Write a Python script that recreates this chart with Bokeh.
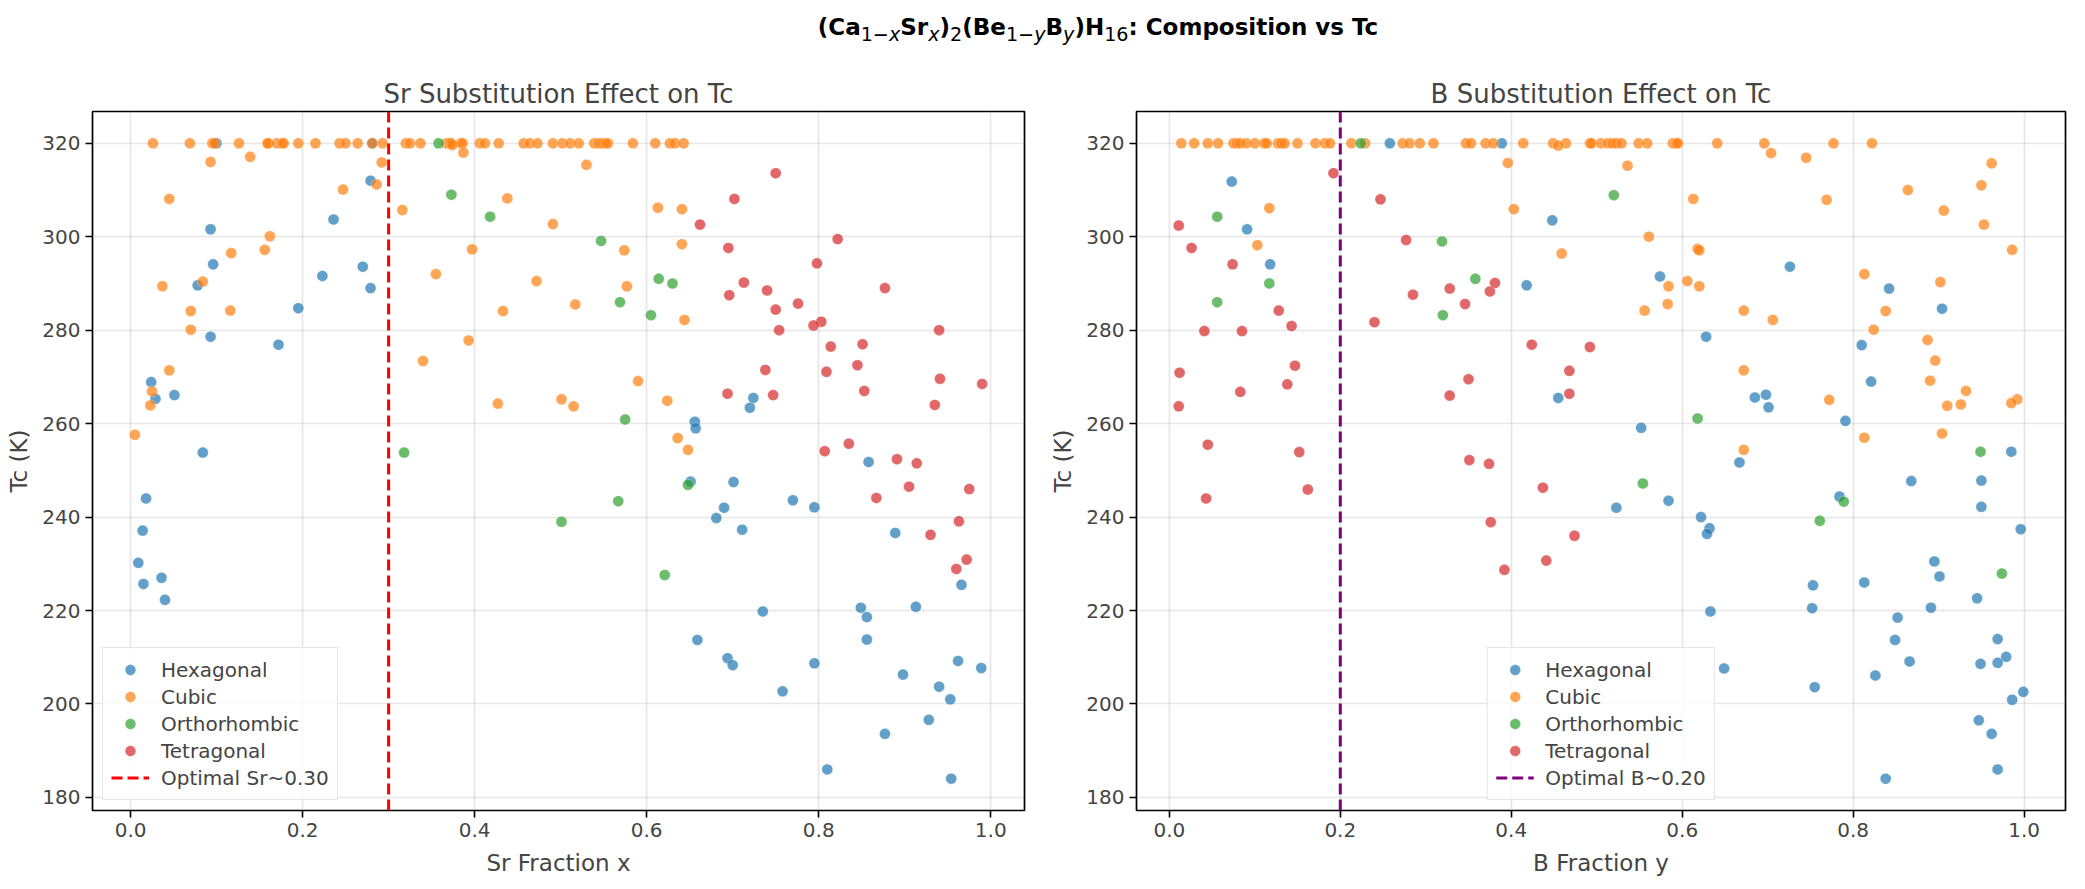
import numpy as np
from bokeh.plotting import figure
from bokeh.layouts import column, row
from bokeh.models import Div, FixedTicker, PrintfTickFormatter
from bokeh.embed import file_html
from bokeh.resources import INLINE

phases = ["Hexagonal", "Cubic", "Orthorhombic", "Tetragonal"]
colors = ["#1f77b4", "#ff7f0e", "#2ca02c", "#d62728"]
x_ticks = [0.0, 0.2, 0.4, 0.6, 0.8, 1.0]
tc_ticks = [180, 200, 220, 240, 260, 280, 300, 320]
optimal_sr = 0.30
optimal_b = 0.20

# --- Sr fraction panel ---
sr_hex_x = [0.100, 0.281, 0.279, 0.236, 0.093, 0.096, 0.270, 0.223, 0.078, 0.279,
            0.195, 0.093, 0.172, 0.024, 0.029, 0.051, 0.084, 0.018, 0.014, 0.009,
            0.015, 0.036, 0.040, 0.724, 0.720, 0.656, 0.657, 0.651, 0.701, 0.690,
            0.681, 0.711, 0.735, 0.659, 0.694, 0.700, 0.858, 0.770, 0.795, 0.889,
            0.966, 0.849, 0.856, 0.913, 0.856, 0.795, 0.962, 0.989, 0.758, 0.898,
            0.940, 0.953, 0.928, 0.877, 0.810, 0.954]
sr_hex_tc = [320.0, 320.0, 312.0, 303.7, 301.6, 294.1, 293.6, 291.6, 289.6, 289.0,
             284.7, 278.6, 276.9, 268.9, 265.3, 266.1, 253.8, 244.0, 237.1, 230.2,
             225.7, 227.0, 222.3, 265.5, 263.4, 260.4, 259.0, 247.6, 247.5, 242.0,
             239.8, 237.3, 219.8, 213.7, 209.8, 208.3, 251.8, 243.6, 242.1, 236.6,
             225.5, 220.6, 218.6, 220.8, 213.8, 208.7, 209.2, 207.7, 202.7, 206.3,
             203.7, 201.0, 196.6, 193.6, 186.0, 184.0]

sr_cub_x = [0.026, 0.069, 0.095, 0.098, 0.126, 0.159, 0.160, 0.170, 0.176, 0.178,
            0.195, 0.215, 0.243, 0.250, 0.264, 0.281, 0.293, 0.320, 0.325, 0.337,
            0.367, 0.371, 0.373, 0.384, 0.386, 0.406, 0.412, 0.428, 0.457, 0.464,
            0.473, 0.491, 0.502, 0.511, 0.521, 0.539, 0.544, 0.548, 0.552, 0.555,
            0.584, 0.610, 0.627, 0.633, 0.643,
            0.374, 0.387, 0.139, 0.093, 0.292, 0.530, 0.286, 0.247, 0.438, 0.045,
            0.613, 0.641, 0.316, 0.491, 0.162, 0.641, 0.397, 0.156, 0.574, 0.117,
            0.355, 0.472, 0.084, 0.037, 0.577, 0.517, 0.116, 0.070, 0.433, 0.644,
            0.070, 0.393, 0.340, 0.045, 0.590, 0.025, 0.501, 0.624, 0.427, 0.023,
            0.515, 0.005, 0.636, 0.648]
sr_cub_tc = [320.0, 320.0, 320.0, 320.0, 320.0, 320.0, 320.0, 320.0, 320.0, 320.0,
             320.0, 320.0, 320.0, 320.0, 320.0, 320.0, 320.0, 320.0, 320.0, 320.0,
             320.0, 320.0, 320.0, 320.0, 320.0, 320.0, 320.0, 320.0, 320.0, 320.0,
             320.0, 320.0, 320.0, 320.0, 320.0, 320.0, 320.0, 320.0, 320.0, 320.0,
             320.0, 320.0, 320.0, 320.0, 320.0,
             319.6, 318.0, 317.1, 316.0, 315.9, 315.4, 311.2, 310.1, 308.2, 308.1,
             306.2, 305.9, 305.7, 302.7, 300.1, 298.4, 297.3, 297.2, 297.1, 296.5,
             292.0, 290.5, 290.4, 289.4, 289.4, 285.5, 284.2, 284.1, 284.1, 282.2,
             280.1, 277.8, 273.4, 271.4, 269.1, 266.9, 265.2, 264.9, 264.3, 263.9,
             263.7, 257.6, 256.9, 254.4]

sr_ort_x = [0.358, 0.373, 0.418, 0.547, 0.614, 0.630, 0.569, 0.605, 0.575, 0.318,
            0.648, 0.567, 0.501, 0.621]
sr_ort_tc = [320.0, 309.0, 304.3, 299.1, 291.0, 290.0, 286.0, 283.2, 260.9, 253.8,
             246.9, 243.4, 239.0, 227.6]

sr_tet_x = [0.750, 0.702, 0.662, 0.822, 0.695, 0.798, 0.713, 0.877, 0.740, 0.696,
            0.776, 0.750, 0.803, 0.794, 0.754, 0.940, 0.851, 0.814, 0.845, 0.738,
            0.809, 0.941, 0.990, 0.853, 0.694, 0.747, 0.935, 0.835, 0.807, 0.891,
            0.914, 0.905, 0.975, 0.867, 0.963, 0.930, 0.972, 0.960]
sr_tet_tc = [313.6, 308.1, 302.6, 299.5, 297.6, 294.3, 290.2, 289.0, 288.5, 287.5,
             285.7, 284.4, 281.8, 281.0, 280.0, 280.0, 277.0, 276.5, 272.5, 271.5,
             271.1, 269.6, 268.5, 267.0, 266.4, 266.1, 264.0, 255.7, 254.1, 252.4,
             251.5, 246.5, 246.0, 244.1, 239.1, 236.2, 230.9, 228.9]

# --- B fraction panel ---
b_hex_y = [0.258, 0.389, 0.073, 0.091, 0.118, 0.448, 0.418, 0.455, 0.574, 0.726,
           0.842, 0.904, 0.628, 0.810, 0.821, 0.685, 0.698, 0.701, 0.791, 0.552,
           0.667, 0.985, 0.868, 0.950, 0.950, 0.523, 0.584, 0.784, 0.622, 0.632,
           0.629, 0.996, 0.895, 0.901, 0.753, 0.813, 0.945, 0.752, 0.891, 0.633,
           0.852, 0.849, 0.969, 0.979, 0.866, 0.949, 0.969, 0.649, 0.826, 0.755,
           0.999, 0.986, 0.947, 0.962, 0.969, 0.838]
b_hex_tc = [320.0, 320.0, 311.8, 301.6, 294.1, 303.5, 289.6, 265.5, 291.5, 293.6,
            288.9, 284.6, 278.6, 276.8, 269.0, 265.6, 266.2, 263.5, 260.6, 259.1,
            251.7, 254.0, 247.7, 247.8, 242.2, 242.0, 243.5, 244.4, 240.0, 237.6,
            236.4, 237.4, 230.5, 227.3, 225.4, 226.0, 222.6, 220.5, 220.6, 219.8,
            218.5, 213.7, 213.9, 210.1, 209.1, 208.6, 208.8, 207.6, 206.1, 203.6,
            202.6, 200.9, 196.5, 193.6, 186.0, 184.0]

b_cub_y = [0.014, 0.029, 0.045, 0.057, 0.075, 0.079, 0.083, 0.090, 0.100, 0.111,
           0.114, 0.127, 0.131, 0.135, 0.150, 0.171, 0.182, 0.188, 0.213, 0.229,
           0.273, 0.281, 0.293, 0.309, 0.347, 0.353, 0.370, 0.379, 0.414, 0.449,
           0.464, 0.492, 0.494, 0.505, 0.513, 0.518, 0.523, 0.529, 0.549, 0.559,
           0.589, 0.593, 0.595, 0.641, 0.696, 0.777, 0.822,
           0.455, 0.704, 0.745, 0.396, 0.962, 0.536, 0.950, 0.864, 0.613, 0.769,
           0.117, 0.403, 0.906, 0.953, 0.561, 0.103, 0.618, 0.620, 0.986, 0.459,
           0.813, 0.606, 0.902, 0.584, 0.620, 0.583, 0.556, 0.672, 0.838, 0.706,
           0.824, 0.887, 0.896, 0.672, 0.890, 0.932, 0.772, 0.992, 0.985, 0.926,
           0.910, 0.904, 0.813, 0.672]
b_cub_tc = [320.0, 320.0, 320.0, 320.0, 320.0, 320.0, 320.0, 320.0, 320.0, 320.0,
            320.0, 320.0, 320.0, 320.0, 320.0, 320.0, 320.0, 320.0, 320.0, 320.0,
            320.0, 320.0, 320.0, 320.0, 320.0, 320.0, 320.0, 320.0, 320.0, 320.0,
            320.0, 320.0, 320.0, 320.0, 320.0, 320.0, 320.0, 320.0, 320.0, 320.0,
            320.0, 320.0, 320.0, 320.0, 320.0, 320.0, 320.0,
            319.5, 317.9, 316.9, 315.8, 315.7, 315.2, 311.0, 310.0, 308.1, 307.9,
            306.1, 305.9, 305.6, 302.6, 300.0, 298.2, 297.4, 297.1, 297.2, 296.4,
            292.0, 290.5, 290.3, 289.4, 289.4, 285.6, 284.2, 284.2, 284.1, 282.2,
            280.1, 277.9, 273.5, 271.4, 269.2, 267.0, 265.1, 265.2, 264.4, 264.1,
            263.8, 257.9, 257.0, 254.4]

b_ort_y = [0.224, 0.520, 0.056, 0.319, 0.358, 0.117, 0.056, 0.320, 0.618, 0.949,
           0.554, 0.789, 0.761, 0.974]
b_ort_tc = [320.0, 308.9, 304.3, 299.0, 291.0, 290.0, 286.0, 283.2, 261.1, 254.0,
            247.2, 243.3, 239.2, 227.9]

b_tet_y = [0.192, 0.247, 0.011, 0.277, 0.026, 0.074, 0.381, 0.328, 0.375, 0.285,
           0.346, 0.128, 0.240, 0.143, 0.041, 0.085, 0.424, 0.492, 0.147, 0.468,
           0.012, 0.350, 0.138, 0.083, 0.468, 0.328, 0.011, 0.045, 0.152, 0.351,
           0.374, 0.437, 0.162, 0.043, 0.376, 0.474, 0.441, 0.392]
b_tet_tc = [313.6, 308.0, 302.4, 299.3, 297.6, 294.1, 290.1, 288.9, 288.3, 287.6,
            285.6, 284.2, 281.7, 280.9, 279.8, 279.8, 276.9, 276.4, 272.4, 271.3,
            270.9, 269.5, 268.4, 266.8, 266.4, 266.0, 263.7, 255.5, 253.9, 252.2,
            251.4, 246.3, 245.9, 244.0, 238.9, 236.0, 230.7, 228.7]

FONT = "DejaVu Sans"


def padded(values):
    lo, hi = float(np.min(values)), float(np.max(values))
    pad = 0.05 * (hi - lo)
    return lo - pad, hi + pad


def make_panel(title, xlabel, series, optimal, opt_color, opt_label, legend_loc,
               width, border_left, border_right):
    all_x = np.concatenate([np.asarray(s[0]) for s in series])
    all_tc = np.concatenate([np.asarray(s[1]) for s in series])
    x0, x1 = padded(all_x)
    y0, y1 = padded(all_tc)

    p = figure(width=width, height=823, x_range=(x0, x1), y_range=(y0, y1),
               title=title, x_axis_label=xlabel, y_axis_label="Tc (K)",
               toolbar_location=None, output_backend="svg",
               min_border_left=border_left, min_border_right=border_right,
               min_border_top=51, min_border_bottom=73)

    for (xs, tcs), name, color in zip(series, phases, colors):
        p.scatter(xs, tcs, size=11, fill_color=color, fill_alpha=0.7,
                  line_color="white", line_alpha=0.6, line_width=0.5,
                  legend_label=name)

    p.line([optimal, optimal], [y0, y1], line_color=opt_color, line_width=3,
           line_dash="11 5", legend_label=opt_label)

    p.title.text_font = FONT
    p.title.text_font_size = "26px"
    p.title.text_font_style = "normal"
    p.title.align = "center"
    p.title.standoff = 6

    p.outline_line_color = "black"
    p.outline_line_width = 1.7
    p.background_fill_color = "white"
    p.border_fill_color = "white"

    p.xaxis.ticker = FixedTicker(ticks=x_ticks)
    p.xaxis.formatter = PrintfTickFormatter(format="%.1f")
    p.yaxis.ticker = FixedTicker(ticks=tc_ticks)
    for ax in p.axis:
        ax.axis_line_color = None
        ax.major_tick_out = 7
        ax.major_tick_in = 0
        ax.minor_tick_out = 0
        ax.minor_tick_in = 0
        ax.major_tick_line_width = 1.6
        ax.major_label_text_font = FONT
        ax.major_label_text_font_size = "20px"
        ax.major_label_standoff = 5
        ax.axis_label_text_font = FONT
        ax.axis_label_text_font_size = "23px"
        ax.axis_label_text_font_style = "normal"
    p.xaxis.axis_label_standoff = 10
    p.yaxis.axis_label_standoff = 7

    p.grid.grid_line_color = "#b0b0b0"
    p.grid.grid_line_alpha = 0.3
    p.grid.grid_line_width = 1.7

    lg = p.legend[0]
    lg.location = legend_loc
    lg.label_text_font = FONT
    lg.label_text_font_size = "20px"
    lg.glyph_width = 38
    lg.glyph_height = 27
    lg.label_height = 27
    lg.label_standoff = 12
    lg.spacing = 0
    lg.padding = 8
    lg.margin = 10
    lg.border_line_color = "#cccccc"
    lg.border_line_width = 1.5
    lg.background_fill_alpha = 0.8
    return p


left = make_panel("Sr Substitution Effect on Tc", "Sr Fraction x",
                  [(sr_hex_x, sr_hex_tc), (sr_cub_x, sr_cub_tc),
                   (sr_ort_x, sr_ort_tc), (sr_tet_x, sr_tet_tc)],
                  optimal_sr, "red", f"Optimal Sr~{optimal_sr:.2f}", "bottom_left",
                  width=1047, border_left=92, border_right=23)
right = make_panel("B Substitution Effect on Tc", "B Fraction y",
                   [(b_hex_y, b_hex_tc), (b_cub_y, b_cub_tc),
                    (b_ort_y, b_ort_tc), (b_tet_y, b_tet_tc)],
                   optimal_b, "#800080", f"Optimal B~{optimal_b:.2f}", "bottom_center",
                   width=1022, border_left=85, border_right=4)

sub = '<sub style="font-weight:normal">{}</sub>'
heading = ("(Ca" + sub.format("1\u2212<i>x</i>") + "Sr" + sub.format("<i>x</i>") + ")"
           + sub.format("2") + "(Be" + sub.format("1\u2212<i>y</i>") + "B"
           + sub.format("<i>y</i>") + ")H" + sub.format("16")
           + ": Composition vs Tc")
title_div = Div(
    text=(f'<div style="font-family:\'DejaVu Sans\';font-size:23px;font-weight:bold;'
          f'text-align:center;width:1966px;margin-left:110px;padding-top:7px;'
          f'line-height:30px">{heading}</div>'),
    width=2069, height=50)

layout = column(title_div, row(left, right))

open("out.html", "w").write(file_html(layout, INLINE))
